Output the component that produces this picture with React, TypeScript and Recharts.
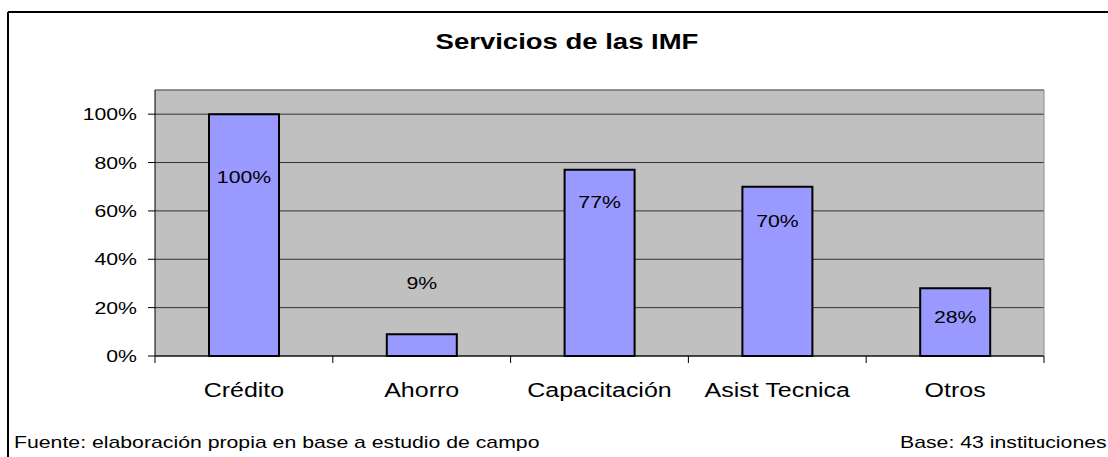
import { BarChart, Bar, XAxis, YAxis, CartesianGrid, ReferenceLine, LabelList } from 'recharts';

const categories = ['Crédito', 'Ahorro', 'Capacitación', 'Asist Tecnica', 'Otros'];
const shares = [1.0, 0.09, 0.77, 0.7, 0.28];
const yTicks = [0, 0.2, 0.4, 0.6, 0.8, 1];

const title = 'Servicios de las IMF';
const source = 'Fuente: elaboración propia en base a estudio de campo';
const base = 'Base: 43 instituciones';

const data = categories.map((name, i) => ({ name, value: shares[i] }));

const FONT = '"Liberation Sans", Arial, sans-serif';
const STRETCH = 1.25; // the original text is drawn wider than normal
const PLOT_W = 889;
const BAND = PLOT_W / categories.length;
// label centre relative to bar top (the original labels were nudged by hand)
const LABEL_DY = [63, -51, 32, 34, 29];

const pct = (v: number) => `${Math.round(v * 100)}%`;

function PercentTick(props: any) {
  const { x, y, payload } = props;
  return (
    <text
      transform={`translate(${x},${y}) scale(${STRETCH},1)`}
      textAnchor="end"
      dy="0.36em"
      fontSize={17}
      fontFamily={FONT}
      fill="#000"
    >
      {pct(payload.value)}
    </text>
  );
}

function CategoryTick(props: any) {
  const { x, y, payload, index } = props;
  const left = x - BAND / 2;
  return (
    <g>
      <line x1={left} y1={y} x2={left} y2={y + 7} stroke="#000" />
      {index === categories.length - 1 && (
        <line x1={x + BAND / 2} y1={y} x2={x + BAND / 2} y2={y + 7} stroke="#000" />
      )}
      <text
        transform={`translate(${x},${y + 41}) scale(${STRETCH},1)`}
        textAnchor="middle"
        fontSize={20}
        fontFamily={FONT}
        fill="#000"
      >
        {payload.value}
      </text>
    </g>
  );
}

function ValueLabel(props: any) {
  const { x, y, width, value, index } = props;
  const cx = Number(x) + Number(width) / 2;
  const cy = Number(y) + LABEL_DY[index];
  return (
    <text
      transform={`translate(${cx},${cy}) scale(${STRETCH},1)`}
      textAnchor="middle"
      dy="0.36em"
      fontSize={17}
      fontFamily={FONT}
      fill="#000"
    >
      {pct(value)}
    </text>
  );
}

export default function App() {
  return (
    <div
      style={{
        position: 'fixed',
        left: 0,
        top: 0,
        width: 1108,
        height: 457,
        overflow: 'hidden',
        background: '#fff',
      }}
    >
      <BarChart
        width={1108}
        height={457}
        data={data}
        margin={{ top: 90, right: 63, bottom: 61, left: 0 }}
        barCategoryGap={0}
      >
        <CartesianGrid vertical={false} stroke="#333" fill="#C0C0C0" fillOpacity={1} />
        <XAxis
          dataKey="name"
          height={40}
          axisLine={{ stroke: '#000' }}
          tickLine={false}
          tickSize={0}
          tickMargin={0}
          interval={0}
          tick={<CategoryTick />}
        />
        <YAxis
          width={155}
          domain={[0, 1.1]}
          ticks={yTicks}
          axisLine={{ stroke: '#000' }}
          tickLine={{ stroke: '#000' }}
          tickSize={7}
          tickMargin={11}
          tick={<PercentTick />}
        />
        <YAxis
          yAxisId="right"
          orientation="right"
          width={1}
          domain={[0, 1.1]}
          tick={false}
          tickLine={false}
          axisLine={{ stroke: '#8c8c8c' }}
        />
        <ReferenceLine y={1.1} stroke="#8c8c8c" />
        <Bar
          dataKey="value"
          fill="#9999FF"
          stroke="#000"
          strokeWidth={2}
          barSize={70}
          isAnimationActive={false}
        >
          <LabelList dataKey="value" content={<ValueLabel />} />
        </Bar>
      </BarChart>
      <svg
        width={1108}
        height={457}
        style={{ position: 'absolute', left: 0, top: 0, pointerEvents: 'none' }}
      >
        <line x1={8} y1={12} x2={1108} y2={12} stroke="#000" strokeWidth={2} />
        <line x1={8} y1={12} x2={8} y2={457} stroke="#000" strokeWidth={2} />
        <text
          transform={`translate(567,49) scale(${STRETCH},1)`}
          textAnchor="middle"
          fontSize={22}
          fontWeight="bold"
          fontFamily={FONT}
          fill="#000"
        >
          {title}
        </text>
        <text
          transform={`translate(14,448) scale(${STRETCH},1)`}
          fontSize={17}
          fontFamily={FONT}
          fill="#000"
        >
          {source}
        </text>
        <text
          transform={`translate(900,448) scale(${STRETCH},1)`}
          fontSize={17}
          fontFamily={FONT}
          fill="#000"
        >
          {base}
        </text>
      </svg>
    </div>
  );
}
